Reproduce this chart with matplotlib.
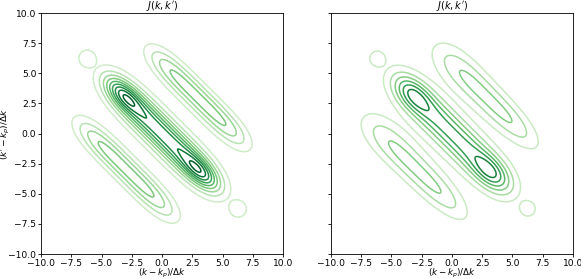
"""Joint spectral amplitude J(k, k') contour maps, two cases side by side."""

import numpy as np
import matplotlib
matplotlib.use("Agg")
import matplotlib.pyplot as plt

# grid in units of Delta k, centred on k_p
k_min, k_max, n_grid = -10.0, 10.0, 601

# lobes are described in rotated coordinates
#   u = (k + k')/sqrt2 (across the anti-diagonal), v = (k' - k)/sqrt2 (along it)
# each entry: amplitude, u0, v0, width across, half-length along, edge exponent, taper
left_lobes = [
    (0.78, 0.0, 0.0, 0.90, 6.3, 4.0, 0.0),     # central plateau
    (0.30, 0.0, 4.5, 0.55, 1.7, 2.0, 0.0),     # upper-left peak
    (0.30, 0.0, -4.5, 0.55, 1.7, 2.0, 0.0),    # lower-right peak
    (0.45, 4.2, 0.0, 0.72, 5.5, 4.0, 0.0),     # upper-right side lobe
    (0.45, -4.2, 0.0, 0.72, 5.5, 4.0, 0.0),    # lower-left side lobe
]
right_lobes = [
    (0.68, 0.0, 0.0, 1.02, 6.5, 4.0, 0.0),
    (0.30, 0.0, 4.6, 0.70, 1.7, 2.0, 0.0),
    (0.30, 0.0, -4.6, 0.70, 1.7, 2.0, 0.0),
    (0.42, 4.15, 0.2, 0.90, 5.6, 3.5, 0.12),
    (0.42, -4.15, 0.2, 0.90, 5.6, 3.5, 0.12),
]
# small round bumps near the ends of the anti-diagonal: k, k', amplitude, radius
rings = [(-6.2, 6.25, 0.15, 0.81), (6.3, -6.27, 0.15, 0.81)]

left_levels = [0.1, 0.2, 0.3, 0.4, 0.5, 0.6, 0.7, 0.8, 0.9]
right_levels = [0.125, 0.25, 0.375, 0.5, 0.625, 0.75, 0.875]

ticks = [-10.0, -7.5, -5.0, -2.5, 0.0, 2.5, 5.0, 7.5, 10.0]


def field(K, Kp, lobes):
    u = (K + Kp) / np.sqrt(2)
    v = (Kp - K) / np.sqrt(2)
    J = np.zeros_like(K)
    for amp, u0, v0, su, lv, n, taper in lobes:
        s = su * np.clip(1 + taper * (v - v0) / lv, 0.3, None)
        J += amp * np.exp(-0.5 * ((u - u0) / s) ** 2 - (np.abs(v - v0) / lv) ** n)
    for kc, kpc, amp, r0 in rings:
        r = np.hypot(K - kc, Kp - kpc)
        J += amp * np.exp(-(r / r0) ** 4)
    return J


k = np.linspace(k_min, k_max, n_grid)
K, Kp = np.meshgrid(k, k)

fs = 6.6
fig = plt.figure(figsize=(5.81, 2.79), dpi=100)
ax1 = fig.add_axes([0.0706, 0.0896, 0.4165, 0.8638])
ax2 = fig.add_axes([0.5697, 0.0896, 0.4165, 0.8638])

for ax, lobes, levels in ((ax1, left_lobes, left_levels), (ax2, right_lobes, right_levels)):
    J = field(K, Kp, lobes)
    ax.contour(K, Kp, J, levels=levels, cmap="Greens", vmin=-0.15, vmax=1.0,
               linewidths=1.1)
    ax.set_xlim(k_min, k_max)
    ax.set_ylim(k_min, k_max)
    ax.set_xticks(ticks)
    ax.set_yticks(ticks)
    ax.tick_params(length=2.5, width=0.6, pad=0.8, labelsize=fs)
    for s in ax.spines.values():
        s.set_linewidth(0.6)
    ax.set_title(r"$J(k,k')$", fontsize=7, pad=2.5)
    ax.set_xlabel(r"$(k-k_p)/\Delta k$", fontsize=6.3)
    ax.xaxis.set_label_coords(0.5, -0.054)

ax1.set_ylabel(r"$(k'-k_p)/\Delta k$", fontsize=6.5, va="center")
ax1.yaxis.set_label_coords(-0.145, 0.5)
ax2.set_yticklabels([])

fig.savefig("out.png", dpi=100)
